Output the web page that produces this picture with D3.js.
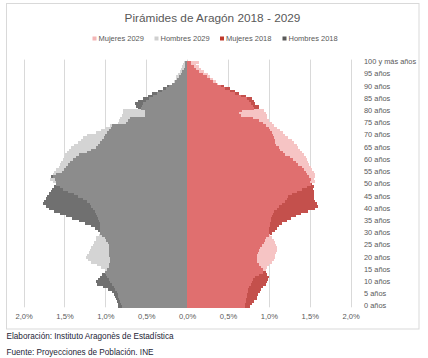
<!DOCTYPE html>
<html>
<head>
<meta charset="utf-8">
<script src="https://cdn.jsdelivr.net/npm/d3@7"></script>
<style>
  html, body { margin: 0; padding: 0; background: #ffffff; }
  svg { display: block; }
  text { font-family: "Liberation Sans", Arial, sans-serif; }
</style>
</head>
<body>
<svg id="chart" width="428" height="358"></svg>
<script>
// ---------- DATA (percentage of each sex's population, by single year of age) ----------
const ages = d3.range(0, 101);
const ageLabels = ["0 años","5 años","10 años","15 años","20 años","25 años","30 años","35 años","40 años","45 años","50 años","55 años","60 años","65 años","70 años","75 años","80 años","85 años","90 años","95 años","100 y más años"];
const xTicks = [-2, -1.5, -1, -0.5, 0, 0.5, 1, 1.5, 2];
const seriesNames = ["Mujeres 2029", "Hombres 2029", "Mujeres 2018", "Hombres 2018"];

const mujeres2018 = [0.77,0.79,0.82,0.85,0.86,0.87,0.89,0.91,0.93,0.97,
  0.98,0.99,1.00,0.98,0.96,0.93,0.91,0.88,0.86,0.85,
  0.85,0.86,0.87,0.88,0.89,0.92,0.94,0.95,0.97,1.00,
  1.04,1.07,1.10,1.13,1.16,1.22,1.27,1.33,1.39,1.48,
  1.56,1.60,1.59,1.56,1.55,1.55,1.55,1.55,1.54,1.55,
  1.53,1.50,1.51,1.49,1.47,1.46,1.43,1.40,1.36,1.33,
  1.29,1.26,1.20,1.17,1.14,1.12,1.09,1.08,1.07,1.06,
  1.05,1.04,1.02,1.00,0.96,0.93,0.88,0.81,0.66,0.64,
  0.67,0.88,0.88,0.83,0.82,0.79,0.72,0.63,0.58,0.53,
  0.45,0.37,0.32,0.28,0.24,0.19,0.15,0.11,0.08,0.05,
  0.05];

const mujeres2029 = [0.71,0.71,0.72,0.72,0.73,0.73,0.74,0.75,0.76,0.78,
  0.79,0.81,0.83,0.88,0.93,0.97,0.98,1.00,1.04,1.06,
  1.08,1.08,1.09,1.10,1.10,1.09,1.08,1.06,1.04,1.01,
  1.00,1.00,1.00,1.01,1.02,1.03,1.03,1.04,1.05,1.06,
  1.10,1.13,1.16,1.20,1.22,1.24,1.28,1.34,1.40,1.47,
  1.52,1.56,1.55,1.56,1.57,1.55,1.53,1.51,1.49,1.48,
  1.47,1.45,1.43,1.41,1.38,1.36,1.34,1.31,1.28,1.24,
  1.20,1.17,1.14,1.10,1.06,1.04,1.00,0.98,0.98,0.97,
  0.94,0.82,0.80,0.78,0.76,0.73,0.66,0.58,0.52,0.46,
  0.42,0.38,0.35,0.32,0.28,0.25,0.21,0.17,0.14,0.11,
  0.14];

const hombres2018 = [0.84,0.85,0.86,0.87,0.88,0.90,0.92,0.97,1.03,1.10,
  1.11,1.09,1.06,1.04,1.00,0.98,0.96,0.95,0.94,0.94,
  0.94,0.95,0.95,0.95,0.96,0.96,0.97,0.99,1.00,1.04,
  1.07,1.09,1.13,1.18,1.25,1.32,1.41,1.48,1.56,1.63,
  1.69,1.73,1.76,1.75,1.73,1.71,1.69,1.66,1.65,1.63,
  1.60,1.60,1.62,1.67,1.60,1.53,1.51,1.48,1.46,1.43,
  1.39,1.36,1.32,1.22,1.17,1.12,1.09,1.06,1.04,1.02,
  1.00,0.98,0.95,0.93,0.92,0.75,0.72,0.70,0.52,0.51,
  0.51,0.60,0.63,0.64,0.60,0.54,0.48,0.43,0.36,0.30,
  0.24,0.19,0.15,0.12,0.10,0.08,0.06,0.04,0.03,0.02,
  0.02];

const hombres2029 = [0.80,0.81,0.82,0.83,0.84,0.85,0.86,0.88,0.90,0.92,
  0.94,0.96,0.98,0.99,1.00,1.01,1.05,1.10,1.17,1.21,
  1.24,1.22,1.20,1.19,1.17,1.15,1.14,1.12,1.11,1.08,
  1.07,1.07,1.07,1.07,1.07,1.08,1.09,1.10,1.11,1.13,
  1.15,1.17,1.19,1.23,1.27,1.33,1.38,1.46,1.52,1.56,
  1.60,1.64,1.68,1.64,1.64,1.63,1.60,1.57,1.55,1.54,
  1.52,1.51,1.49,1.47,1.45,1.42,1.38,1.33,1.30,1.27,
  1.23,1.12,1.05,1.00,0.94,0.84,0.83,0.82,0.80,0.79,
  0.78,0.56,0.55,0.54,0.50,0.46,0.42,0.37,0.31,0.26,
  0.22,0.19,0.16,0.14,0.13,0.11,0.09,0.07,0.06,0.05,
  0.04];

// ---------- STYLE ----------
const col = {
  fem2029: "#f6c4c4", fem2018: "#c4504c", femBoth: "#e06f6f",
  mal2029: "#d4d4d4", mal2018: "#707070", malBoth: "#8c8c8c",
  legFem2029: "#f4b6b6", legMal2029: "#cfcfcf", legFem2018: "#c0392b", legMal2018: "#595959",
  grid: "#d9d9d9", text: "#595959", border: "#d9d9d9", foot: "#1c2436"
};

const svg = d3.select("#chart");

// chart frame
svg.append("rect").attr("x", 6.5).attr("y", 3.5).attr("width", 412.5).attr("height", 325.5)
  .attr("fill", "#fff").attr("stroke", col.border).attr("stroke-width", 1);

const plot = { left: 23.6, right: 350.6, top: 60.6, bottom: 307.3 };

const x = d3.scaleLinear().domain([-2, 2]).range([plot.left, plot.right]);
const y = d3.scaleBand().domain(ages).range([plot.bottom, plot.top]).padding(0);

// grid lines
svg.append("g").selectAll("line").data(xTicks).join("line")
  .attr("x1", d => Math.round(x(d)) + 0.5).attr("x2", d => Math.round(x(d)) + 0.5)
  .attr("y1", plot.top - 1).attr("y2", plot.bottom)
  .attr("stroke", col.grid).attr("stroke-width", 1);

// bars
const bh = y.bandwidth();
function layer(values, sign, color) {
  svg.append("g").attr("shape-rendering", "crispEdges").selectAll("rect").data(ages).join("rect")
    .attr("x", d => sign < 0 ? x(-values[d]) : x(0))
    .attr("width", d => Math.abs(x(values[d]) - x(0)))
    .attr("y", d => y(d))
    .attr("height", bh + 0.5)
    .attr("fill", color);
}
const menBoth = ages.map(a => Math.min(hombres2018[a], hombres2029[a]));
const womenBoth = ages.map(a => Math.min(mujeres2018[a], mujeres2029[a]));
layer(hombres2018, -1, col.mal2018);
layer(hombres2029, -1, col.mal2029);
layer(menBoth, -1, col.malBoth);
layer(mujeres2018, 1, col.fem2018);
layer(mujeres2029, 1, col.fem2029);
layer(womenBoth, 1, col.femBoth);

// x axis labels
const xAxis = d3.axisBottom(x).tickValues(xTicks).tickSize(0).tickPadding(6)
  .tickFormat(d => Math.abs(d).toFixed(1).replace(".", ",") + "%");
const gx = svg.append("g").attr("transform", `translate(0,${plot.bottom + 0.5})`).call(xAxis);
gx.select(".domain").remove();
gx.selectAll("text").attr("fill", col.text).style("font-size", "7.6px");

// y axis labels (right side)
const yAxis = d3.axisRight(y).tickValues(ages.filter(a => a % 5 === 0)).tickSize(0).tickPadding(0)
  .tickFormat(a => ageLabels[a / 5]);
const gy = svg.append("g").attr("transform", `translate(364,0)`).call(yAxis);
gy.select(".domain").remove();
gy.selectAll("text").attr("fill", col.text).style("font-size", "7.4px");

// title
svg.append("text").attr("x", 212.5).attr("y", 21.5).attr("text-anchor", "middle")
  .attr("fill", col.text).style("font-size", "11.8px").text("Pirámides de Aragón 2018 - 2029");

// legend
const legColors = [col.legFem2029, col.legMal2029, col.legFem2018, col.legMal2018];
const legX = [92.5, 154.5, 220, 282.5];
const leg = svg.append("g");
seriesNames.forEach((name, i) => {
  leg.append("rect").attr("x", legX[i]).attr("y", 36.5).attr("width", 4).attr("height", 4)
    .attr("fill", legColors[i]);
  leg.append("text").attr("x", legX[i] + 6).attr("y", 41.2).attr("fill", col.text)
    .style("font-size", "7.5px").text(name);
});

// footer
svg.append("text").attr("x", 6.5).attr("y", 339).attr("fill", col.foot)
  .style("font-size", "8.2px").text("Elaboración: Instituto Aragonès de Estadística");
svg.append("text").attr("x", 6.5).attr("y", 355).attr("fill", col.foot)
  .style("font-size", "8.2px").text("Fuente: Proyecciones de Población. INE");
</script>
</body>
</html>
